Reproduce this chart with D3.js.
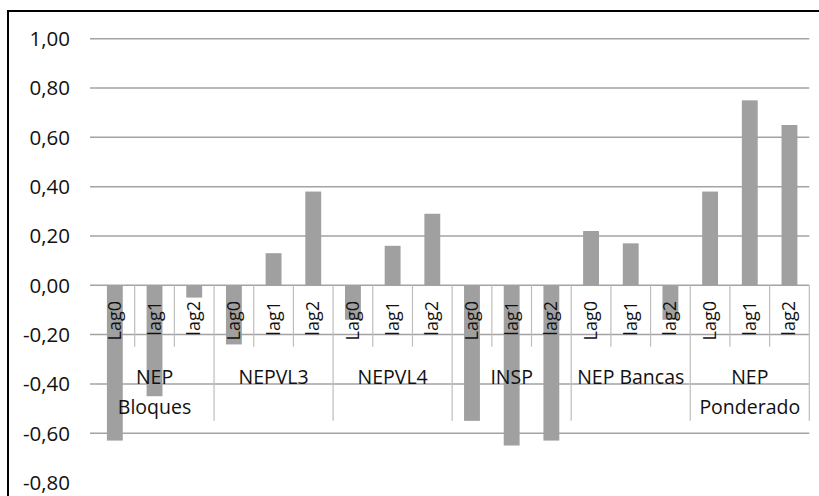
<!DOCTYPE html>
<html>
<head>
<meta charset="utf-8">
<script src="https://cdn.jsdelivr.net/npm/d3@7.9.0/dist/d3.min.js"></script>
<style>
  body { margin: 0; background: #fff; }
  svg { display: block; font-family: "Open Sans", sans-serif; }
</style>
</head>
<body>
<svg id="chart" width="819" height="496"></svg>
<script>
// data
const groupLines = [['NEP', 'Bloques'], ['NEPVL3'], ['NEPVL4'], ['INSP'], ['NEP Bancas'], ['NEP', 'Ponderado']];
const lags = ['Lag0', 'lag1', 'lag2'];
const nepBloques = [-0.63, -0.45, -0.05];
const nepvl3 = [-0.24, 0.13, 0.38];
const nepvl4 = [-0.14, 0.16, 0.29];
const insp = [-0.55, -0.65, -0.63];
const nepBancas = [0.22, 0.17, -0.14];
const nepPonderado = [0.38, 0.75, 0.65];
const yTicks = [-0.8, -0.6, -0.4, -0.2, 0, 0.2, 0.4, 0.6, 0.8, 1.0];

const seriesByGroup = [nepBloques, nepvl3, nepvl4, insp, nepBancas, nepPonderado];

const data = [];
seriesByGroup.forEach((vals, g) => {
  vals.forEach((v, i) => {
    data.push({ key: g + '-' + i, group: g, lag: lags[i], value: v });
  });
});

const svg = d3.select('#chart');

// outer frame (cropped on right and bottom in the picture)
svg.append('rect')
  .attr('x', 8).attr('y', 11)
  .attr('width', 830).attr('height', 500)
  .attr('fill', 'none')
  .attr('stroke', '#000')
  .attr('stroke-width', 2);

const left = 95, right = 809.3;

const x = d3.scaleBand()
  .domain(data.map(d => d.key))
  .range([left, right]);

const xGroup = d3.scaleBand()
  .domain(d3.range(groupLines.length))
  .range([left, right]);

const y = d3.scaleLinear()
  .domain([-0.8, 1.0])
  .range([482.5, 38.7]);

const fmt = (v) => d3.format('.2f')(v).replace('.', ',').replace('\u2212', '-');

// gridlines (no line at the minimum)
svg.append('g')
  .selectAll('line')
  .data(yTicks.filter(t => t > -0.8))
  .join('line')
  .attr('x1', 90).attr('x2', right)
  .attr('y1', d => y(d)).attr('y2', d => y(d))
  .attr('stroke', '#a3a3a3')
  .attr('stroke-width', 1.5);

// y labels
svg.append('g')
  .selectAll('text')
  .data(yTicks)
  .join('text')
  .attr('x', 70)
  .attr('y', d => y(d))
  .attr('dy', '0.36em')
  .attr('text-anchor', 'end')
  .attr('font-size', 20.5)
  .attr('fill', '#111')
  .text(fmt);

// bars
const bw = x.bandwidth() * 0.4;
svg.append('g')
  .selectAll('rect')
  .data(data)
  .join('rect')
  .attr('x', d => x(d.key) + (x.bandwidth() - bw) / 2)
  .attr('width', bw)
  .attr('y', d => y(Math.max(0, d.value)))
  .attr('height', d => Math.abs(y(d.value) - y(0)))
  .attr('fill', '#a0a0a0');

// category separators
const sepShort = 346.7, sepLong = 420.7;
const seps = data.map((d, i) => ({ xPos: x(d.key) + x.bandwidth(), long: (i % 3) === 2 }));
svg.append('g')
  .selectAll('line')
  .data(seps)
  .join('line')
  .attr('x1', d => d.xPos).attr('x2', d => d.xPos)
  .attr('y1', y(0))
  .attr('y2', d => d.long ? sepLong : sepShort)
  .attr('stroke', '#bdbdbd')
  .attr('stroke-width', 1.2);

// lag labels (rotated)
svg.append('g')
  .selectAll('text')
  .data(data)
  .join('text')
  .attr('transform', d => `translate(${x(d.key) + x.bandwidth() / 2 + 6},301) rotate(-90)`)
  .attr('text-anchor', 'end')
  .attr('font-size', 18)
  .attr('fill', '#111')
  .text(d => d.lag);

// group labels
const gl = svg.append('g')
  .selectAll('text')
  .data(groupLines)
  .join('text')
  .attr('text-anchor', 'middle')
  .attr('font-size', 19.5)
  .attr('fill', '#111');

gl.selectAll('tspan')
  .data((d, i) => d.map((line, j) => ({ line, j, g: i })))
  .join('tspan')
  .attr('x', d => xGroup(d.g) + xGroup.bandwidth() / 2)
  .attr('y', d => 384 + d.j * 30)
  .text(d => d.line);
</script>
</body>
</html>
